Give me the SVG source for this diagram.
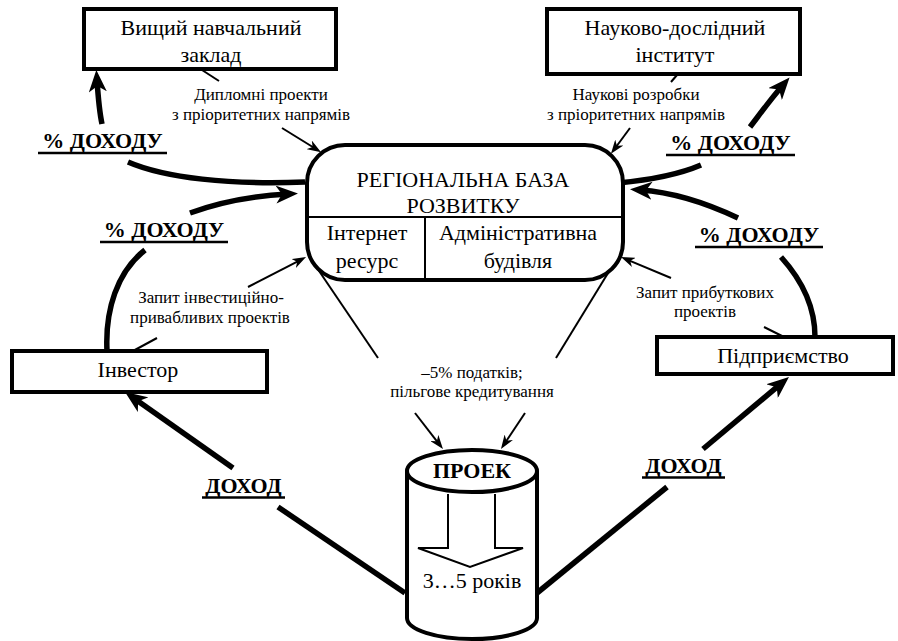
<svg xmlns="http://www.w3.org/2000/svg" width="898" height="641" viewBox="0 0 898 641">
<style>
text{font-family:Liberation Serif,Times New Roman,Times,Tinos,Noto Serif,DejaVu Serif,FreeSerif,serif;fill:#000;text-anchor:middle}
.node{font-size:22px}
.lbl{font-size:17px}
.big{font-size:22px;font-weight:bold}
.box{fill:#fff;stroke:#000;stroke-width:4}
.thin{fill:none;stroke:#000;stroke-width:2}
.thick{fill:none;stroke:#000;stroke-width:5.5}
.ul{stroke:#000;stroke-width:2.5}
</style>
<defs>
<marker id="ah" markerUnits="userSpaceOnUse" markerWidth="14" markerHeight="10" refX="8" refY="5" orient="auto">
<path d="M0,0 L14,5 L0,10 L4,5 z" fill="#000"/>
</marker>
<marker id="bh" markerUnits="userSpaceOnUse" markerWidth="22" markerHeight="18" refX="12" refY="9" orient="auto">
<path d="M0,0 L22,9 L0,18 L6,9 z" fill="#000"/>
</marker>
</defs>

<g id="connectors">
<path class="thin" d="M202 70 L219 81"/>
<path class="thin" d="M282 128 L316 149" marker-end="url(#ah)"/>
<path class="thin" d="M677 75 L671 82"/>
<path class="thin" d="M630 128 L614.5 149" marker-end="url(#ah)"/>
<path class="thin" d="M133 351 L157 338"/>
<path class="thin" d="M248 287 L300.7 259.8" marker-end="url(#ah)"/>
<path class="thin" d="M784 337 L764 327"/>
<path class="thin" d="M671 278 L626.5 259.3" marker-end="url(#ah)"/>
<path class="thin" d="M315 265 L378 358"/>
<path class="thin" d="M616 260 L556 358"/>
<path class="thin" d="M415 413 L439.3 444.3" marker-end="url(#ah)"/>
<path class="thin" d="M525 413 L504.3 444" marker-end="url(#ah)"/>
<path class="thick" d="M405 593 L278 507"/>
<path class="thick" d="M233 468 L133.2 397.8" marker-end="url(#bh)"/>
<path class="thick" d="M537 593 L667 487"/>
<path class="thick" d="M703 449 L781.3 383.4" marker-end="url(#bh)"/>
<path class="thick" d="M305 182 C230 185 165 178 128 162"/>
<path class="thick" d="M102 124 C99 110 98 95 97 80" marker-end="url(#bh)"/>
<path class="thick" d="M107 351 C105 310 117 272 145 250"/>
<path class="thick" d="M190 213 C220 202 250 196 288 194" marker-end="url(#bh)"/>
<path class="thick" d="M618 183 C650 180 680 174 701 165"/>
<path class="thick" d="M750 127 C760 114 770 100 783 85" marker-end="url(#bh)"/>
<path class="thick" d="M815 337 C815 305 800 278 781 257"/>
<path class="thick" d="M738 218 C700 200 670 192 640 190" marker-end="url(#bh)"/>
</g>

<g id="vnz">
<rect class="box" x="84" y="9" width="252" height="60"/>
<text class="node" x="211" y="35">Вищий навчальний</text>
<text class="node" x="211" y="62">заклад</text>
</g>

<g id="ndi">
<rect class="box" x="547" y="9" width="253" height="65"/>
<text class="node" x="675" y="35">Науково-дослідний</text>
<text class="node" x="675" y="62">інститут</text>
</g>

<g id="rbr">
<rect class="box" x="307" y="145" width="316" height="135" rx="38" ry="38"/>
<line x1="309" y1="217" x2="621" y2="217" stroke="#000" stroke-width="2"/>
<line x1="425" y1="217" x2="425" y2="279" stroke="#000" stroke-width="2"/>
<text class="node" x="463" y="187">РЕГІОНАЛЬНА БАЗА</text>
<text class="node" x="463" y="213">РОЗВИТКУ</text>
<text class="node" x="367" y="240">Інтернет</text>
<text class="node" x="367" y="268">ресурс</text>
<text class="node" x="518" y="240">Адміністративна</text>
<text class="node" x="518" y="268">будівля</text>
</g>

<g id="investor">
<rect class="box" x="12" y="351" width="255" height="41"/>
<text class="node" x="138" y="377">Інвестор</text>
</g>

<g id="pidpryiemstvo">
<rect class="box" x="657" y="337" width="236" height="37"/>
<text class="node" x="783" y="363">Підприємство</text>
</g>

<g id="proekt">
<path d="M407 471 L407 618 A65 21 0 0 0 537 618 L537 471" fill="#fff" stroke="#000" stroke-width="4"/>
<ellipse cx="472" cy="471" rx="65" ry="21" fill="#fff" stroke="#000" stroke-width="4"/>
<polyline points="448,494 448,548 418,548 470,567 523,548 495,548 495,494" fill="none" stroke="#000" stroke-width="2"/>
<text class="big" x="472" y="478">ПРОЕК</text>
<text class="node" x="472" y="588">3…5 років</text>
</g>

<g id="labels">
<text class="lbl" x="261" y="100">Дипломні проекти</text>
<text class="lbl" x="261" y="120">з пріоритетних напрямів</text>
<text class="lbl" x="636" y="100">Наукові розробки</text>
<text class="lbl" x="636" y="120">з пріоритетних напрямів</text>
<text class="lbl" x="211" y="303">Запит інвестиційно-</text>
<text class="lbl" x="210" y="323">привабливих проектів</text>
<text class="lbl" x="705" y="298">Запит прибуткових</text>
<text class="lbl" x="705" y="317">проектів</text>
<text class="lbl" x="472" y="378">–5% податків;</text>
<text class="lbl" x="472" y="397">пільгове кредитування</text>
<text class="big" x="102.5" y="148">% ДОХОДУ</text>
<line class="ul" x1="38" y1="153" x2="167" y2="153"/>
<text class="big" x="164" y="237">% ДОХОДУ</text>
<line class="ul" x1="100" y1="242" x2="228" y2="242"/>
<text class="big" x="730.5" y="150">% ДОХОДУ</text>
<line class="ul" x1="666" y1="155" x2="795" y2="155"/>
<text class="big" x="759" y="242">% ДОХОДУ</text>
<line class="ul" x1="695" y1="247" x2="823" y2="247"/>
<text class="big" x="243.5" y="493">ДОХОД</text>
<line class="ul" x1="202" y1="497.5" x2="285" y2="497.5"/>
<text class="big" x="683.5" y="473">ДОХОД</text>
<line class="ul" x1="642" y1="477.5" x2="725" y2="477.5"/>
</g>
</svg>
